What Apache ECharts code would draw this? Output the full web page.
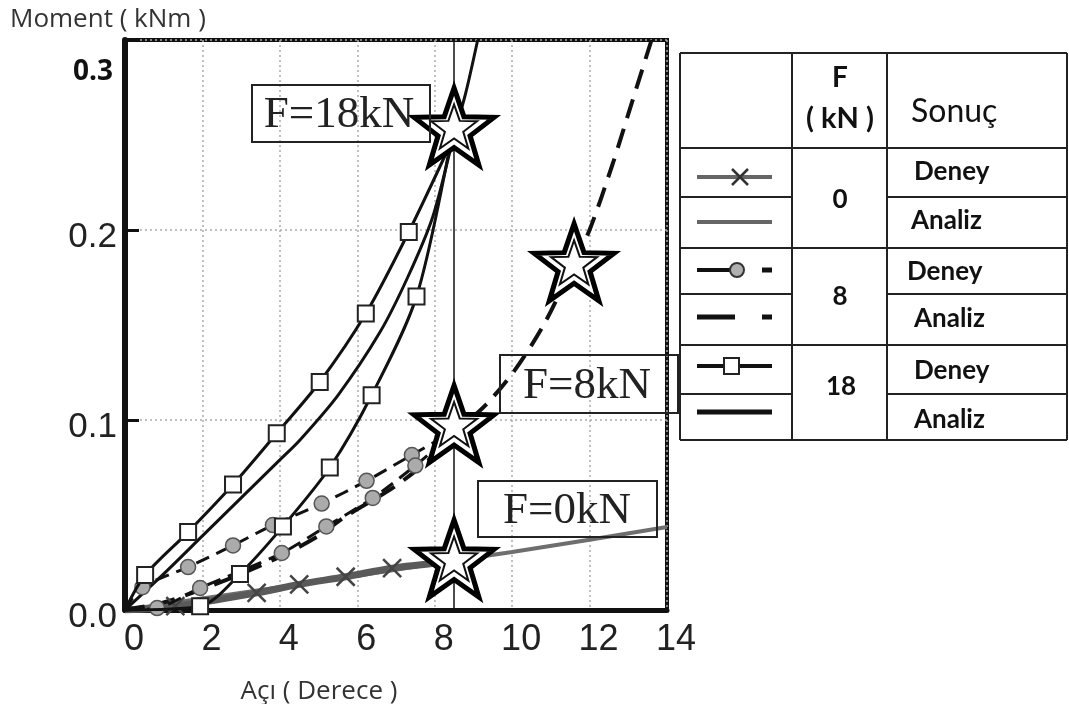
<!DOCTYPE html>
<html><head><meta charset="utf-8">
<script src="https://cdn.jsdelivr.net/npm/echarts@6/dist/echarts.min.js"></script>
<style>html,body{margin:0;padding:0;background:#fff}#c{width:1069px;height:704px}</style>
</head><body><div id="c"></div>
<script>
// ---- data ----
const xTicks = [0, 2, 4, 6, 8, 10, 12, 14];
const yTicks = [0.0, 0.1, 0.2, 0.3];

// F = 0 kN
const f0AnalizX = [0, 2, 4, 6, 8.5, 10, 12, 14];
const f0AnalizY = [0, 0.006, 0.012, 0.018, 0.026, 0.0305, 0.037, 0.0437];
const f0DeneyX = [0, 1.3, 3.4, 4.5, 5.7, 6.9, 8.2];
const f0DeneyY = [0, 0.002, 0.009, 0.0135, 0.0175, 0.022, 0.025];

// F = 8 kN
const f8AnalizX = [0, 1, 2, 3, 4, 5, 5.68, 6.97, 7.9, 8.5, 9.32, 10.06, 10.84, 11.6, 12.0, 12.6, 13.03, 13.6];
const f8AnalizY = [0, 0.004, 0.011, 0.019, 0.028, 0.039, 0.049, 0.065, 0.08, 0.093, 0.108, 0.126, 0.151, 0.183, 0.2, 0.235, 0.263, 0.3];
const f8DeneyAX = [0, 0.45, 1.63, 2.79, 3.82, 5.08, 6.24, 7.41, 8.65];
const f8DeneyAY = [0, 0.012, 0.0226, 0.034, 0.0447, 0.056, 0.068, 0.0816, 0.096];
const f8DeneyBX = [0, 0.83, 1.94, 4.05, 5.2, 6.4, 7.5, 8.3];
const f8DeneyBY = [0, 0.001, 0.0116, 0.030, 0.044, 0.059, 0.076, 0.09];

// F = 18 kN
const f18AnalizX = [0, 1, 2, 3, 4, 4.52, 5.5, 6.58, 7.3, 7.95, 8.5, 8.8, 9.11];
const f18AnalizY = [0, 0.019, 0.039, 0.059, 0.079, 0.0895, 0.113, 0.146, 0.175, 0.207, 0.25, 0.272, 0.3];
const f18DeneyAX = [0, 0.52, 1.63, 2.79, 3.92, 5.03, 6.22, 7.33, 8.4];
const f18DeneyAY = [0, 0.0184, 0.041, 0.066, 0.093, 0.120, 0.156, 0.199, 0.245];
const f18DeneyBX = [0, 1.94, 2.97, 4.08, 5.29, 6.37, 7.53, 8.4];
const f18DeneyBY = [0, 0.002, 0.019, 0.044, 0.075, 0.113, 0.165, 0.245];

// ultimate points (stars)
const starX = [8.5, 8.5, 8.5, 11.6];
const starY = [0.2545, 0.0979, 0.0271, 0.183];
const refLineX = [8.5];

// ---- helpers ----
const pairs = (xs, ys) => xs.map((x, i) => [x, ys[i]]);
// measured points get a marker; the curve's start (origin) and end (convergence) do not
const marked = (xs, ys, hideLast) => xs.map((x, i) =>
  (i === 0 || (hideLast && i === xs.length - 1)) ? {value: [x, ys[i]], symbol: 'none'} : [x, ys[i]]);
const STAR = 'path://M50,0L61.76,33.82L97.55,34.55L69.02,56.18L79.39,90.45L50,70L20.61,90.45L30.98,56.18L2.45,34.55L38.24,33.82Z';
const XMARK = 'path://M0,0L10,10M10,0L0,10';
const serif = '"Liberation Serif", "DejaVu Serif", serif';
const sans = '"Liberation Sans", Arial, sans-serif';
const cal = 'Lato, "Open Sans", sans-serif';

const chart = echarts.init(document.getElementById('c'));

// ---- legend table (graphic) ----
const g = [];
const L = 680, R = 1067, C1 = 792, C2 = 887, T = 53, B = 440;
const hl = (x1, x2, y, w) => g.push({type: 'line', shape: {x1, y1: y, x2, y2: y}, style: {stroke: '#222', lineWidth: w || 2}});
const vl = (x, y1, y2, w) => g.push({type: 'line', shape: {x1: x, y1, x2: x, y2}, style: {stroke: '#222', lineWidth: w || 2}});
const tx = (text, x, y, font, align) => g.push({type: 'text', z: 50, style: {text, x, y, font, fill: '#111', align: align || 'center', verticalAlign: 'middle'}});
vl(L, T, B); vl(C1, T, B); vl(C2, T, B); vl(R, T, B);
hl(L, R, T); hl(L, R, 148); hl(L, R, 248); hl(L, R, 345); hl(L, R, B);
hl(L, C1, 197); hl(C2, R, 197); hl(L, C1, 294); hl(C2, R, 294); hl(L, C1, 394); hl(C2, R, 394);
tx('F', 840, 78, 'bold 28px ' + cal);
tx('( kN )', 840, 119, 'bold 29px ' + cal);
tx('Sonuç', 911, 112, '32px ' + cal, 'left');
tx('0', 840, 200, 'bold 26px ' + cal);
tx('8', 840, 297, 'bold 26px ' + cal);
tx('18', 841, 387, 'bold 26px ' + cal);
const rowsY = [172, 221, 272, 319, 371, 420];
const rowTxt = ['Deney', 'Analiz', 'Deney', 'Analiz', 'Deney', 'Analiz'];
const rowX = [914, 911, 907, 914, 914, 914];
rowsY.forEach((y, i) => tx(rowTxt[i], rowX[i], y, 'bold 26px ' + cal, 'left'));
// legend symbols
const seg = (x1, x2, y, color, w) => g.push({type: 'line', z: 50, shape: {x1, y1: y, x2, y2: y}, style: {stroke: color, lineWidth: w}});
seg(697, 772, 177, '#666', 4);
g.push({type: 'line', z: 51, shape: {x1: 732, y1: 169, x2: 748, y2: 185}, style: {stroke: '#333', lineWidth: 2.5}});
g.push({type: 'line', z: 51, shape: {x1: 748, y1: 169, x2: 732, y2: 185}, style: {stroke: '#333', lineWidth: 2.5}});
seg(697, 772, 222, '#666', 4);
seg(697, 730, 270, '#111', 4);
g.push({type: 'circle', z: 51, shape: {cx: 737, cy: 270, r: 7}, style: {fill: '#b0b0b0', stroke: '#333', lineWidth: 2}});
seg(762, 772, 270, '#111', 5);
seg(697, 735, 317, '#111', 5);
seg(762, 772, 317, '#111', 5);
seg(697, 772, 366, '#111', 4);
g.push({type: 'rect', z: 51, shape: {x: 724, y: 358, width: 15, height: 16}, style: {fill: '#fff', stroke: '#222', lineWidth: 2}});
seg(697, 772, 412, '#111', 5);
// F labels in plot
const box = (x, y, w, h, text, cx, cy) => {
  g.push({type: 'rect', z: 40, shape: {x, y, width: w, height: h}, style: {fill: 'none', stroke: '#222', lineWidth: 2}});
  g.push({type: 'text', z: 40, style: {text, x: cx, y: cy, font: '45px ' + serif, fill: '#222', align: 'center', verticalAlign: 'middle'}});
};
box(252, 85, 178, 57, 'F=18kN', 339, 115);
box(500, 355, 178, 58, 'F=8kN', 587, 386);
box(478, 481, 179, 56, 'F=0kN', 567, 511);
// bold 0.3 label
g.push({type: 'text', z: 40, style: {text: '0.3', x: 113, y: 72, font: 'bold 28px "Open Sans", sans-serif', fill: '#111', align: 'right', verticalAlign: 'middle'}});

const lineS = (name, data, color, width, dash, extra) => Object.assign({
  name, type: 'line', data, smooth: 0.3, showSymbol: false, symbol: 'none',
  lineStyle: {color, width, type: dash || 'solid'}, z: 3, animation: false
}, extra || {});

const option = {
  animation: false,
  backgroundColor: '#fff',
  grid: {left: 125, right: 402, top: 40, bottom: 94, show: true, borderColor: '#111', borderWidth: 4,
         containLabel: false, outerBoundsMode: 'none'},
  xAxis: {
    type: 'value', min: xTicks[0], max: xTicks[xTicks.length - 1], interval: 2,
    name: 'Açı ( Derece )', nameLocation: 'middle', nameGap: 69,
    nameTextStyle: {fontFamily: '"Open Sans", sans-serif', fontSize: 26, color: '#333', padding: [0, 154, 0, 0]},
    axisLine: {lineStyle: {color: '#111', width: 5}},
    axisTick: {show: false},
    axisLabel: {fontFamily: sans, fontSize: 36, color: '#222', margin: 12, padding: [0, 0, 0, 18]},
    splitLine: {show: true, lineStyle: {color: '#aaa', width: 1.5, type: [2, 3]}}
  },
  yAxis: {
    type: 'value', min: yTicks[0], max: yTicks[yTicks.length - 1], interval: 0.1,
    name: 'Moment ( kNm )', nameLocation: 'end', nameGap: 7,
    nameTextStyle: {fontFamily: '"Open Sans", sans-serif', fontSize: 26, color: '#333', align: 'left', padding: [0, 0, 0, -115]},
    axisLine: {lineStyle: {color: '#111', width: 6}},
    axisTick: {show: true, inside: true, length: 14, lineStyle: {color: '#111', width: 3}},
    axisLabel: {fontFamily: sans, fontSize: 35, color: '#222', margin: 8, padding: [0, 0, 0, 0],
      verticalAlign: 'top', lineHeight: 15,
      formatter: v => Math.abs(v - 0.3) < 1e-9 ? '' : v.toFixed(1)},
    splitLine: {show: true, lineStyle: {color: '#aaa', width: 1.5, type: [2, 3]}}
  },
  series: [
    lineS('F0 Analiz', pairs(f0AnalizX, f0AnalizY), '#6e6e6e', 4, 'solid', {smooth: false}),
    lineS('F0 Deney', marked(f0DeneyX, f0DeneyY, true), '#5a5a5a', 7, 'solid', {
      showSymbol: true, symbol: XMARK, symbolSize: 18,
      itemStyle: {color: 'none', borderColor: '#444', borderWidth: 2.5}}),
    lineS('F8 Analiz', pairs(f8AnalizX, f8AnalizY), '#111', 4, [20, 11]),
    lineS('F8 Deney A', marked(f8DeneyAX, f8DeneyAY, false), '#111', 3, [14, 8], {
      showSymbol: true, symbol: 'circle', symbolSize: 15, z: 4,
      itemStyle: {color: '#ababab', borderColor: '#555', borderWidth: 1.5}}),
    lineS('F8 Deney B', marked(f8DeneyBX, f8DeneyBY, true), '#111', 3, [14, 8], {
      showSymbol: true, symbol: 'circle', symbolSize: 15, z: 4,
      itemStyle: {color: '#ababab', borderColor: '#555', borderWidth: 1.5}}),
    lineS('F18 Analiz', pairs(f18AnalizX, f18AnalizY), '#111', 3),
    lineS('F18 Deney A', marked(f18DeneyAX, f18DeneyAY, true), '#111', 3, 'solid', {
      showSymbol: true, symbol: 'rect', symbolSize: 16, z: 5,
      itemStyle: {color: '#fff', borderColor: '#222', borderWidth: 2}}),
    lineS('F18 Deney B', marked(f18DeneyBX, f18DeneyBY, true), '#111', 3, 'solid', {
      showSymbol: true, symbol: 'rect', symbolSize: 16, z: 5,
      itemStyle: {color: '#fff', borderColor: '#222', borderWidth: 2}}),
    {name: 'Star', type: 'scatter', data: pairs(starX, starY), symbol: STAR, symbolSize: [80, 77], z: 8,
     itemStyle: {color: '#fff', borderColor: '#000', borderWidth: 5, opacity: 1}, animation: false, silent: true},
    {name: 'Star inner', type: 'scatter', data: pairs(starX, starY), symbol: STAR, symbolSize: [46, 44], z: 9,
     itemStyle: {color: 'none', borderColor: '#111', borderWidth: 2, opacity: 1}, animation: false, silent: true},
    {name: 'ref', type: 'line', data: [], z: 10, animation: false,
     markLine: {silent: true, symbol: 'none', label: {show: false},
       lineStyle: {color: '#111', width: 1.5, type: 'solid'},
       data: refLineX.map(v => ({xAxis: v}))}}
  ],
  graphic: g
};
chart.setOption(option);
</script>
</body></html>
